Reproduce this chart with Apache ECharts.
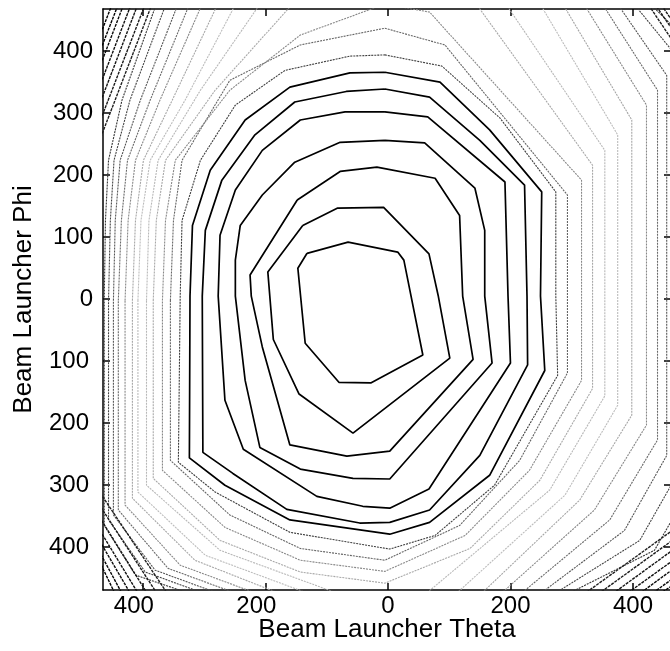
<!DOCTYPE html>
<html>
<head>
<meta charset="utf-8">
<script src="https://cdn.jsdelivr.net/npm/echarts@6/dist/echarts.min.js"></script>
<style>
  html, body { margin: 0; padding: 0; background: #fff; }
  #main { width: 670px; height: 651px; }
</style>
</head>
<body>
<div id="main"></div>
<script>
// tick positions (labels show absolute values, as in the original)
var xTicks = [-400, -200, 0, 200, 400];
var yTicks = [-400, -300, -200, -100, 0, 100, 200, 300, 400];

// contour lines, [theta, phi] vertices, inner to outer
var ring1 = [[-132,74],[-65,92],[16,76],[26,63],[57,-90],[-28,-135],[-80,-134],[-135,-71],[-147,50],[-132,74]];
var ring2 = [[-139,119],[-82,147],[-7,148],[67,73],[82,6],[101,-95],[-57,-216],[-145,-153],[-187,-65],[-196,44],[-139,119]];
var ring3 = [[-148,160],[-78,206],[-18,213],[77,195],[117,135],[122,5],[139,-97],[3,-245],[-67,-253],[-160,-235],[-205,-77],[-223,5],[-225,39],[-148,160]];
var ring4 = [[-5,256],[60,252],[142,179],[158,111],[158,5],[170,-103],[3,-290],[-57,-289],[-143,-274],[-209,-239],[-233,-131],[-249,5],[-249,63],[-241,119],[-205,168],[-152,221],[-78,253],[-5,256]];
var ring5 = [[-5,302],[65,294],[191,189],[196,5],[200,-103],[67,-306],[3,-337],[-41,-334],[-116,-318],[-236,-242],[-266,-163],[-277,5],[-274,103],[-249,176],[-205,240],[-143,289],[-70,302],[-5,302]];
var ring6 = [[-5,339],[68,326],[150,256],[223,184],[227,5],[228,-106],[150,-252],[68,-340],[3,-360],[-46,-361],[-165,-339],[-253,-281],[-302,-247],[-303,5],[-298,111],[-271,192],[-217,265],[-152,318],[-68,335],[-5,339]];
var ring7 = [[-5,366],[85,350],[166,273],[251,173],[249,5],[256,-115],[166,-284],[68,-360],[3,-379],[-160,-356],[-266,-300],[-324,-256],[-323,5],[-319,119],[-290,208],[-233,289],[-160,342],[-62,365],[-5,366]];
var ring8 = [[-5,394],[88,376],[183,292],[274,173],[274,5],[277,-123],[174,-300],[77,-381],[3,-403],[-160,-376],[-282,-311],[-342,-263],[-339,5],[-336,127],[-306,224],[-249,313],[-168,369],[-62,392],[-5,394]];
var ring9 = [[-355,-2],[-350,127],[-336,224],[-258,353],[-143,410],[-5,437],[93,410],[293,168],[293,-2],[293,-119],[215,-260],[117,-365],[-5,-421],[-143,-402],[-258,-348],[-355,-260],[-355,-2]];
var ring10 = [[-368,-2],[-363,127],[-347,224],[-258,337],[-143,426],[-5,476],[68,463],[316,192],[316,-2],[316,-131],[231,-276],[126,-381],[-5,-439],[-143,-421],[-266,-368],[-368,-276],[-368,-2]];
var ring11 = [[-383,-2],[-378,127],[-363,224],[-282,337],[-143,490],[134,490],[334,216],[334,-2],[334,-144],[248,-292],[134,-402],[-5,-458],[-143,-440],[-274,-389],[-383,-289],[-383,-2]];
var ring12 = [[-394,-2],[-390,127],[-375,224],[-306,337],[-199,490],[183,490],[354,240],[354,-2],[354,-156],[264,-308],[39,-494],[-28,-494],[-274,-405],[-394,-300],[-394,-2]];
var ring13 = [[-408,-2],[-403,127],[-388,224],[-331,321],[-241,490],[240,490],[375,265],[375,-2],[375,-171],[289,-316],[90,-494],[-77,-494],[-298,-413],[-408,-311],[-408,-2]];
var ring14 = [[-417,-2],[-412,127],[-399,224],[-352,321],[-271,490],[277,490],[398,289],[398,-2],[398,-187],[313,-324],[132,-494],[-127,-494],[-315,-421],[-417,-321],[-417,-2]];
var ring15 = [[-429,-2],[-424,127],[-412,224],[-372,321],[-297,490],[311,490],[422,313],[422,-2],[422,-203],[337,-340],[163,-494],[-161,-494],[-339,-429],[-429,-332],[-429,-2]];
var ring16 = [[-440,-2],[-435,127],[-425,224],[-388,321],[-318,490],[341,490],[440,337],[440,-2],[440,-227],[362,-356],[194,-494],[-194,-494],[-359,-434],[-440,-340],[-440,-2]];
var ring17 = [[-448,-2],[-445,127],[-437,224],[-404,321],[-337,490],[365,490],[455,361],[455,-2],[455,-252],[386,-373],[223,-494],[-223,-494],[-380,-437],[-448,-348],[-448,-2]];
var ring18 = [[-456,-2],[-453,127],[-447,224],[-421,321],[-357,490],[390,490],[476,386],[476,-2],[476,-276],[411,-389],[241,-494],[-246,-494],[-396,-440],[-456,-356],[-456,-2]];
var ring19 = [[-463,-2],[-461,127],[-456,224],[-434,321],[-373,490],[414,490],[496,410],[496,-2],[496,-300],[435,-405],[256,-494],[-266,-494],[-412,-445],[-463,-365],[-463,-2]];
var ring20 = [[-478,237],[-383,481],[421,481],[474,403],[474,-366],[311,-482],[-355,-482],[-478,-300],[-478,237]];
var ring21 = [[-478,266],[-394,481],[432,481],[474,421],[474,-382],[334,-482],[-372,-482],[-478,-321],[-478,266]];
var ring22 = [[-478,295],[-406,481],[442,481],[474,434],[474,-398],[357,-482],[-388,-482],[-478,-340],[-478,295]];
var ring23 = [[-478,324],[-417,481],[484,490],[474,-415],[380,-482],[-403,-482],[-478,-360],[-478,324]];
var ring24 = [[-478,355],[-429,481],[484,490],[474,-429],[401,-482],[-416,-482],[-478,-377],[-478,355]];
var ring25 = [[-478,379],[-438,481],[484,490],[474,-444],[421,-482],[-430,-482],[-478,-394],[-478,379]];
var ring26 = [[-478,405],[-448,481],[484,490],[474,-456],[432,-482],[-442,-482],[-478,-408],[-478,405]];

var rings = [ring1, ring2, ring3, ring4, ring5, ring6, ring7, ring8, ring9, ring10,
  ring11, ring12, ring13, ring14, ring15, ring16, ring17, ring18, ring19, ring20,
  ring21, ring22, ring23, ring24, ring25, ring26];

// grey level of each contour (the printed colormap)
var ringColors = ['#000', '#000', '#000', '#000', '#000', '#000', '#000', '#3c3c3c',
  '#666', '#888', '#a8a8a8', '#b8b8b8', '#bcbcbc', '#a6a6a6', '#888', '#6a6a6a',
  '#555', '#444', '#333', '#202020', '#1a1a1a', '#151515', '#101010', '#0a0a0a',
  '#050505', '#000'];

var font = 'Liberation Sans, Arial, Helvetica, sans-serif';

var chart = echarts.init(document.getElementById('main'), null, { renderer: 'canvas' });

function axisBase(min, max, ticks) {
  return {
    type: 'value',
    min: min,
    max: max,
    splitLine: { show: false },
    axisLine: { show: true, onZero: false, lineStyle: { color: '#000', width: 1.5 } },
    axisTick: { show: true, inside: true, length: 7, customValues: ticks, lineStyle: { color: '#000', width: 1.5 } }
  };
}

var xBottom = axisBase(-465, 462, xTicks);
xBottom.position = 'bottom';
xBottom.axisLabel = {
  customValues: xTicks, color: '#000', fontSize: 24, fontFamily: font, margin: 4,
  formatter: function (v) { return v < 0 ? '{n|' + (-v) + '}' : String(v); },
  rich: { n: { fontSize: 24, fontFamily: font, color: '#000', padding: [0, 18, 0, 0] } }
};
xBottom.name = 'Beam Launcher Theta';
xBottom.nameLocation = 'middle';
xBottom.nameGap = 27;
xBottom.nameMoveOverlap = false;
xBottom.nameTextStyle = { fontSize: 26, color: '#000', fontFamily: font };

var xTop = axisBase(-465, 462, xTicks);
xTop.position = 'top';
xTop.axisLabel = { show: false };

var yLeft = axisBase(-469, 468, yTicks);
yLeft.position = 'left';
yLeft.axisLabel = {
  customValues: yTicks, color: '#000', fontSize: 24, fontFamily: font, margin: 10,
  formatter: function (v) { return v < 0 ? '{n|' + (-v) + '}' : String(v); },
  rich: { n: { fontSize: 24, fontFamily: font, color: '#000', padding: [0, 4, 0, 0] } }
};
yLeft.name = 'Beam Launcher Phi';
yLeft.nameLocation = 'middle';
yLeft.nameGap = 66;
yLeft.nameTextStyle = { fontSize: 26, color: '#000', fontFamily: font };

var yRight = axisBase(-469, 468, yTicks);
yRight.position = 'right';
yRight.axisLabel = { show: false };

var series = rings.map(function (pts, i) {
  var inner = i < 7;
  var corner = i >= 19;
  return {
    type: 'line',
    data: pts,
    xAxisIndex: 0,
    yAxisIndex: 0,
    symbol: 'none',
    silent: true,
    clip: true,
    z: inner ? 3 : 2,
    lineStyle: {
      color: ringColors[i],
      width: inner ? 1.7 : (corner ? 1.4 : 1.1),
      type: inner ? 'solid' : (corner ? [3, 1] : [2, 1])
    }
  };
});

var option = {
  animation: false,
  backgroundColor: '#fff',
  grid: { left: 103, top: 9, width: 568, height: 581, containLabel: false, outerBoundsMode: 'none' },
  xAxis: [xBottom, xTop],
  yAxis: [yLeft, yRight],
  series: series
};

chart.setOption(option);
</script>
</body>
</html>
